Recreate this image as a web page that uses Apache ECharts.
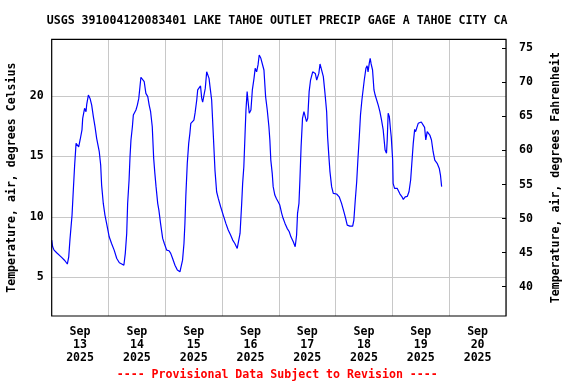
<!DOCTYPE html>
<html>
<head>
<meta charset="utf-8">
<script src="https://cdn.jsdelivr.net/npm/echarts@6/dist/echarts.min.js"></script>
<style>html,body{margin:0;padding:0;background:#fff}#c{width:576px;height:384px}</style>
</head>
<body>
<div id="c"></div>
<script>
// Hours since 2025-09-13 00:00 local
const hours = [
  0,0.4,1,2.1,4.2,5.6,6.6,7.2,7.7,8.6,9.1,9.7,10.3,10.8,11.4,12,12.8,13.1,13.9,14.5,14.8,15.5,16.2,16.9,17.6,18.3,19,20.1,20.7,21.1,21.8,22.5,23.2,
  24.3,25.3,26.4,27.5,28.6,29.6,30.5,31.1,31.7,32.1,32.7,33.1,33.5,34.1,34.5,35.1,35.6,36.2,36.8,37.3,37.7,38.4,39.1,39.8,40.6,41.2,41.8,42.5,43.1,43.6,44.1,44.8,45.3,46,46.9,47.6,
  48.6,49.6,50.3,51.1,52.1,53.1,54.2,54.7,55.3,55.9,56.3,56.7,57.3,57.9,58.4,58.8,59.5,60.1,60.6,61.3,61.7,62.3,62.9,63.4,63.8,64.3,64.9,65.5,66,66.5,66.9,67.6,68.3,69,69.7,70.4,71.4,
  72.5,73.6,74.6,75.6,76.5,77.4,78.4,79.1,79.6,80.3,80.7,81.2,81.7,82.1,82.6,83,83.5,84.2,84.8,85.5,86,86.6,87.2,87.7,88.4,89.1,89.7,90.4,91.1,91.8,92.2,92.6,93.2,93.6,94.3,95,95.7,
  96.4,97.2,97.8,98.6,99.5,100.4,101.1,102.1,102.9,103.5,103.9,104.5,104.9,105.4,106,106.6,107.2,107.7,108.2,108.8,109.4,110.3,110.8,111.4,112,112.5,112.9,113.4,113.9,114.8,115.5,116.2,116.6,117.2,117.6,118.3,119,119.7,
  120.4,121.5,122.5,123.5,124.4,124.9,126,127.2,127.7,128.3,128.9,129.4,130,130.5,131.1,131.7,132.1,132.8,133.3,133.7,134.2,134.6,135,135.6,136.2,136.7,137.3,138,138.7,139.4,140.1,140.5,140.9,141.5,141.8,142.2,142.7,143.2,143.5,
  144.1,144.3,144.9,145.5,146,146.6,147.2,147.9,148.6,149.4,150.3,151,151.7,152.2,152.8,153.4,153.8,154.2,154.9,155.5,156.2,157,157.6,158.1,158.7,159.2,159.8,160.5,161.2,161.9,162.9,163.8,164.3,164.8
];
const tempC = [
  8.08,7.53,7.25,7.03,6.65,6.37,6.1,6.7,8.08,10.15,12.08,14.29,16.08,16.2,15.8,16.36,17.2,18.15,18.98,18.7,19.3,20.08,19.8,19.25,18.3,17.46,16.5,15.39,14.29,12.63,11.11,10.15,9.46,
  8.35,7.8,7.25,6.56,6.2,6.1,6.0,6.98,8.63,11.12,13.05,14.98,16.36,17.46,18.43,18.56,18.84,19.25,19.8,20.77,21.55,21.6,21.18,20.22,19.95,19.25,18.7,17.46,14.84,13.6,12.5,11.12,10.56,9.46,8.22,7.8,
  7.25,7.2,6.98,6.56,6.0,5.6,5.46,5.5,6.42,7.8,9.46,11.8,14.43,16.08,16.91,17.74,17.8,18.01,18.6,19.67,20.5,20.6,20.83,19.8,19.5,19.45,20.63,22.0,21.9,21.46,20.77,19.67,16.77,13.87,12.08,11.53,10.84,
  10.15,9.46,8.91,8.5,8.08,7.8,7.39,7.39,8.63,11.12,12.77,14.15,16.77,18.84,20.36,19.53,18.57,18.84,20.5,21.46,22.29,22.0,22.57,23.39,23.12,22.98,22.15,19.95,18.84,17.46,16.36,14.7,13.6,12.5,11.8,11.5,11.25,
  10.98,10.29,9.88,9.46,9.05,8.77,8.35,7.94,7.53,8.5,10.29,11.12,13.05,15.8,18.15,18.7,18.7,17.88,18.15,20.36,21.32,22.0,22.07,21.87,21.32,21.2,21.87,22.65,22.57,21.6,20.22,18.7,16.63,14.84,13.74,12.5,11.94,12.0,
  11.89,11.66,11.12,10.42,9.74,9.32,9.24,9.24,9.74,11.39,12.9,14.7,16.63,18.43,19.67,19.8,21.32,22.29,22.5,22.0,22.7,23.12,22.65,22.15,20.5,20.08,20.08,19.25,18.7,18.01,17.19,16.36,15.53,15.26,16.36,18.57,18.29,17.19,16.63,
  14.7,12.77,12.36,12.5,12.36,12.5,11.89,11.7,11.45,11.66,11.7,12.08,13.05,14.43,16.08,17.24,17.05,17.2,17.74,17.8,17.85,17.8,17.4,16.36,17.05,17.1,16.77,16.36,15.39,14.7,14.43,14.01,13.46,12.5
];
const dayLabels = ['13','14','15','16','17','18','19','20'];
const labelHours = [12,36,60,84,108,132,156,180];
const celsiusTicks = [5,10,15,20];
const fahrenheitTicks = [40,45,50,55,60,65,70,75];
const titleText = 'USGS 391004120083401 LAKE TAHOE OUTLET PRECIP GAGE A TAHOE CITY CA';
const footerText = '---- Provisional Data Subject to Revision ----';

const FONT = '"DejaVu Sans Mono", monospace';
const FS = 11.6;
const chart = echarts.init(document.getElementById('c'), null, {renderer: 'canvas'});
chart.setOption({
  animation: false,
  backgroundColor: '#fff',
  title: [
    {text: titleText, left: 46.7, top: 14.5, padding: 0,
     textStyle: {fontFamily: FONT, fontSize: FS, fontWeight: 'bold', color: '#000'}},
    {text: footerText, left: 116.7, top: 368.5, padding: 0,
     textStyle: {fontFamily: FONT, fontSize: FS, fontWeight: 'bold', color: '#ff0000'}}
  ],
  grid: {left: 51.7, right: 70, top: 39.3, bottom: 68, containLabel: false, outerBoundsMode: 'none',
         show: true, borderColor: '#000', borderWidth: 1.2, backgroundColor: 'transparent', z: 5},
  xAxis: {
    type: 'value', min: 0, max: 192, interval: 24,
    axisLine: {show: false}, axisTick: {show: false},
    splitLine: {show: true, lineStyle: {color: '#c8c8c8', width: 1}},
    axisLabel: {
      customValues: labelHours, margin: 10,
      fontFamily: FONT, fontSize: FS, fontWeight: 'bold', color: '#000', lineHeight: 12.8,
      formatter: v => 'Sep\n' + dayLabels[Math.round((v - 12) / 24)] + '\n2025'
    }
  },
  yAxis: [
    {
      type: 'value', min: 1.8, max: 24.69, position: 'left',
      name: 'Temperature, air, degrees Celsius', nameLocation: 'middle', nameRotate: 90, nameGap: 34,
      nameTextStyle: {fontFamily: FONT, fontSize: FS, fontWeight: 'bold', color: '#000'},
      axisLine: {show: false},
      axisTick: {show: false, customValues: celsiusTicks},
      splitLine: {show: true, lineStyle: {color: '#c8c8c8', width: 1}},
      axisLabel: {customValues: celsiusTicks, margin: 8, fontFamily: FONT, fontSize: FS, fontWeight: 'bold', color: '#000'}
    },
    {
      type: 'value', min: 35.7, max: 76.32, position: 'right',
      name: 'Temperature, air, degrees Fahrenheit', nameLocation: 'middle', nameRotate: 90, nameGap: 44,
      nameTextStyle: {fontFamily: FONT, fontSize: FS, fontWeight: 'bold', color: '#000'},
      axisLine: {show: false},
      axisTick: {show: true, inside: true, length: 4, customValues: fahrenheitTicks, lineStyle: {color: '#000'}},
      splitLine: {show: false},
      axisLabel: {customValues: fahrenheitTicks, margin: 13, fontFamily: FONT, fontSize: FS, fontWeight: 'bold', color: '#000'}
    }
  ],
  series: [{
    type: 'line', yAxisIndex: 0, showSymbol: false, symbol: 'none',
    lineStyle: {color: '#0000ff', width: 1.2},
    data: hours.map((h, i) => [h, tempC[i]])
  }]
});
</script>
</body>
</html>
